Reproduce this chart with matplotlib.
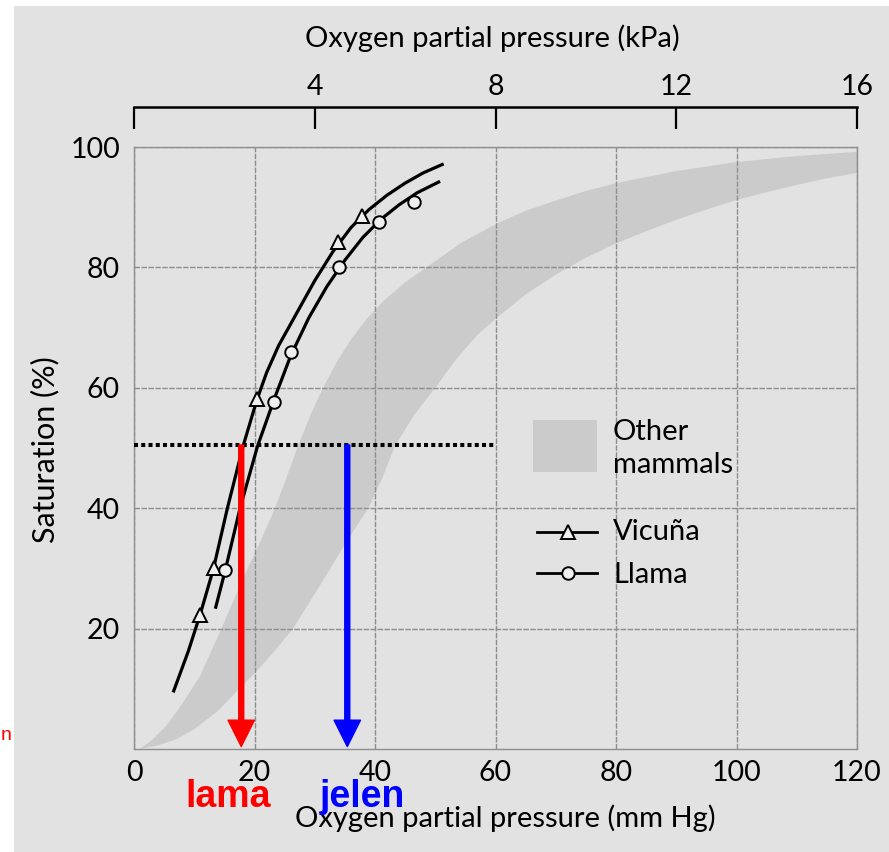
import matplotlib
matplotlib.use("Agg")
import matplotlib.pyplot as plt
import numpy as np
from matplotlib.patches import Rectangle
from matplotlib.lines import Line2D

# ---- data (PO2 in mm Hg, saturation in %) ----
vicuna_x = [11.0, 13.2, 20.4, 33.9, 37.8]
vicuna_y = [22.2, 30.1, 58.1, 84.2, 88.6]
llama_x = [15.1, 23.3, 26.0, 34.1, 40.7, 46.4]
llama_y = [29.7, 57.6, 66.0, 80.1, 87.6, 90.8]

# fitted dissociation curves
vicuna_curve_x = [6.5, 9.0, 11.0, 13.2, 15.5, 18.1, 20.4, 22.0, 24.0, 27.0, 30.0,
                  33.0, 36.0, 39.0, 42.0, 45.0, 48.0, 51.4]
vicuna_curve_y = [9.4, 16.2, 22.4, 30.0, 40.0, 50.3, 58.0, 62.5, 67.0, 72.4, 77.8,
                  82.6, 86.6, 89.6, 92.0, 94.0, 95.7, 97.2]
llama_curve_x = [13.5, 15.1, 17.6, 20.5, 23.3, 26.0, 29.0, 32.0, 35.0, 38.0, 41.0,
                 44.0, 47.0, 50.8]
llama_curve_y = [23.3, 29.5, 40.0, 50.3, 58.2, 65.3, 71.6, 76.8, 81.2, 85.0, 88.0,
                 90.4, 92.4, 94.3]

# range for other mammals
band_upper_x = [1.0, 3.0, 5.5, 8.0, 11.0, 14.3, 18.4, 21.0, 23.4, 25.3, 27.2, 29.3,
                31.4, 33.6, 36.0, 38.5, 41.5, 45.0, 49.2, 54.5, 60.3, 65.0, 70.0,
                75.0, 80.0, 90.0, 100.0, 110.0, 120.0]
band_upper_y = [0.0, 1.5, 4.0, 7.5, 12.2, 19.5, 29.0, 34.5, 40.0, 45.0, 50.3, 55.5,
                60.0, 64.2, 68.0, 71.3, 74.5, 77.5, 80.5, 84.2, 87.3, 89.4, 91.1,
                92.7, 94.0, 96.0, 97.5, 98.5, 99.2]
band_lower_x = [1.0, 4.0, 7.0, 10.0, 13.8, 17.0, 20.9, 23.5, 26.4, 29.2, 32.0, 35.5,
                38.9, 41.2, 43.3, 46.5, 50.0, 53.5, 57.0, 60.3, 65.0, 70.0, 75.0,
                80.0, 85.0, 90.0, 95.0, 100.0, 105.0, 110.0, 115.0, 120.0]
band_lower_y = [0.0, 0.6, 1.6, 3.3, 6.2, 9.5, 13.5, 16.5, 20.0, 24.5, 29.0, 34.8,
                40.0, 45.0, 50.3, 55.5, 60.0, 64.8, 68.8, 71.7, 75.5, 78.8, 81.6,
                84.0, 86.0, 87.9, 89.6, 91.2, 92.5, 93.7, 94.8, 95.7]

# half-saturation markers
half_sat = 50.5
p50_lama = 17.8
p50_jelen = 35.4

mmhg_ticks = [0, 20, 40, 60, 80, 100, 120]
sat_ticks = [20, 40, 60, 80, 100]
kpa_ticks = [0, 4, 8, 12, 16]
kpa_labels = ["", "4", "8", "12", "16"]

BG = "#e2e2e2"
BAND = "#cbcbcb"
GRID = "#8e8e8e"
FS = 21
plt.rcParams["font.family"] = ["Lato", "DejaVu Sans"]

fig = plt.figure(figsize=(8.89, 8.52), dpi=100, facecolor="white")
fig.patches.append(Rectangle((14 / 889, 0), 1, (852 - 6) / 852,
                             transform=fig.transFigure, facecolor=BG,
                             edgecolor="none", zorder=-10))

ax = fig.add_axes([134 / 889, 1 - 749 / 852, 723 / 889, 602 / 852])
ax.set_facecolor("none")
ax.set_xlim(0, 120)
ax.set_ylim(0, 100)

# grid and frame
ax.set_xticks(mmhg_ticks)
ax.set_yticks(sat_ticks)
ax.grid(True, color=GRID, lw=1.0, ls=(0, (4, 1)))
for s in ax.spines.values():
    s.set_color(GRID)
    s.set_linewidth(1.0)
    s.set_linestyle((0, (4, 1)))
ax.tick_params(length=0, labelsize=20.5)
ax.tick_params(axis="x", pad=8)
ax.tick_params(axis="y", pad=10)

# band of other mammals
bx = np.concatenate([band_upper_x, band_lower_x[::-1]])
by = np.concatenate([band_upper_y, band_lower_y[::-1]])
ax.fill(bx, by, color=BAND, lw=0, zorder=1)

# curves and points
for cx, cy in [(vicuna_curve_x, vicuna_curve_y), (llama_curve_x, llama_curve_y)]:
    ax.plot(cx, cy, color="black", lw=2.3, zorder=3,
            solid_joinstyle="round", solid_capstyle="butt")
ax.plot(vicuna_x, vicuna_y, ls="none", marker="^", ms=10, mfc="#f0f0f0",
        mec="black", mew=1.4, zorder=4)
ax.plot(llama_x, llama_y, ls="none", marker="o", ms=9, mfc="#f0f0f0",
        mec="black", mew=1.4, zorder=4)

# half saturation line and arrows
ax.plot([0, 60], [half_sat, half_sat], color="black", lw=2.9,
        ls=(0, (1, 0.8)), dash_capstyle="butt", zorder=5)
for xv, col in [(p50_lama, "#ff0000"), (p50_jelen, "#0000ff")]:
    ax.annotate("", xy=(xv, 0.4), xytext=(xv, half_sat),
                arrowprops=dict(color=col, width=3.6, headwidth=19,
                                headlength=19, shrink=0), zorder=6)

# legend
tA = ax.transAxes
ax.add_patch(Rectangle((0.552, 0.460), 0.088, 0.0865, transform=tA,
                       facecolor=BAND, edgecolor="none", zorder=2))
ax.text(0.6625, 0.5133, "Other", transform=tA, fontsize=FS, va="baseline")
ax.text(0.6625, 0.4585, "mammals", transform=tA, fontsize=FS, va="baseline")
for yl, mk, ms, name, yt in [(0.361, "^", 10, "Vicuña", 0.347),
                              (0.293, "o", 9, "Llama", 0.276)]:
    ax.add_line(Line2D([0.557, 0.640], [yl, yl], transform=tA, color="black",
                       lw=2.0, zorder=3))
    ax.add_line(Line2D([0.600], [yl], transform=tA, marker=mk, ms=ms,
                       mfc="#f0f0f0", mec="black", mew=1.4, zorder=4))
    ax.text(0.6625, yt, name, transform=tA, fontsize=FS, va="baseline")

# axis labels
ax.set_xlabel("Oxygen partial pressure (mm Hg)", fontsize=FS)
ax.xaxis.set_label_coords(0.513, -0.1146)
ax.xaxis.label.set_va("center")
ax.set_ylabel("Saturation (%)", fontsize=22)
ax.yaxis.set_label_coords(-0.123, 0.497)
ax.yaxis.label.set_va("center")

# kPa scale on top
ax2 = ax.twiny()
ax2.set_xlim(0, 16)
ax2.set_xticks(kpa_ticks)
ax2.set_xticklabels(kpa_labels)
for name in ["left", "right", "bottom"]:
    ax2.spines[name].set_visible(False)
ax2.spines["top"].set_position(("outward", 29))
ax2.spines["top"].set_linewidth(1.8)
ax2.tick_params(axis="x", direction="in", length=16, width=1.6,
                labelsize=20.5, pad=5)
ax2.set_xlabel("Oxygen partial pressure (kPa)", fontsize=FS)
ax2.xaxis.set_label_coords(0.496, 1.181)
ax2.xaxis.label.set_va("center")

# annotations below the axis
fig.text(185 / 889, 1 - 807 / 852, "lama", color="#ff0000", fontsize=27,
         fontweight="bold", family="Liberation Sans", va="baseline", zorder=10)
fig.text(320 / 889, 1 - 807 / 852, "jelen", color="#0000ff", fontsize=27,
         fontweight="bold", family="Liberation Sans", va="baseline", zorder=10)
fig.text(1 / 889, 1 - 740 / 852, "n", color="#ff0000", fontsize=14,
         family="Liberation Sans", va="baseline")

fig.savefig("out.png", dpi=100, facecolor="white")
